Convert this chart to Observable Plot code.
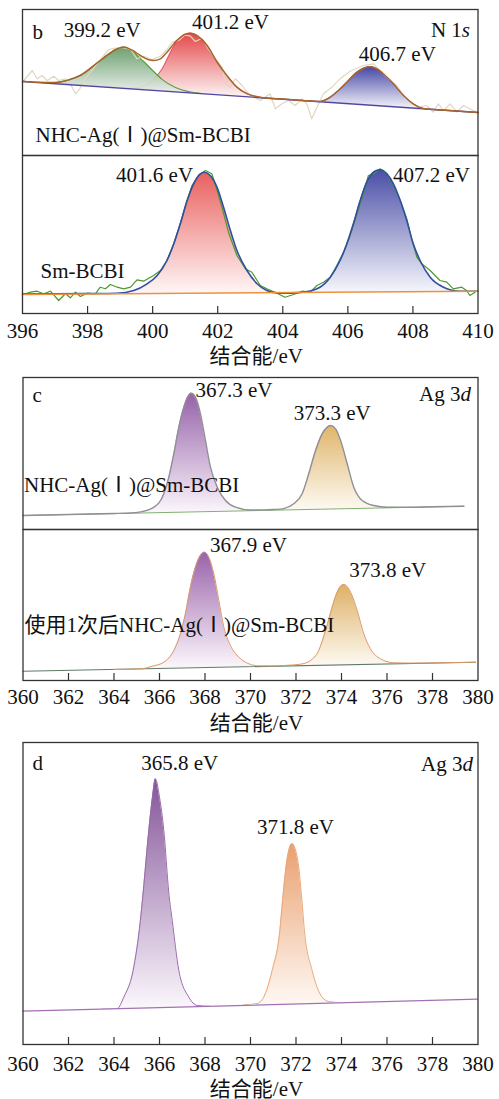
<!DOCTYPE html>
<html><head><meta charset="utf-8">
<script src="https://cdn.jsdelivr.net/npm/d3@7"></script>
<script src="https://cdn.jsdelivr.net/npm/@observablehq/plot@0.6"></script>
<style>
body{margin:0;background:#fff;}
#wrap{position:relative;width:499px;height:1099px;overflow:hidden;background:#fff;}
#wrap svg{position:absolute;left:0;}
</style></head><body><div id="wrap"></div>
<script>
const FONT = "'Liberation Serif','Noto Sans CJK SC',serif";

// ---------- Panel b (N 1s), x = binding energy (eV), y = intensity (a.u.) ----------
const bTicks = [396, 398, 400, 402, 404, 406, 408, 410];
// upper: NHC-Ag(I)@Sm-BCBI
const bTopBaseline = [[396, 74], [410, 43]];
const bTopGreen = [[397.0,72.8],[397.4,75.4],[397.8,80.5],[398.2,90.1],[398.6,100.2],[398.9,106.5],[399.1,108.3],[399.4,103.4],[399.7,94.7],[400.0,85.0],[400.3,75.9],[400.7,68.0],[401.1,63.8],[401.5,61.9]];
const bTopRed = [[399.2,67.0],[399.6,68.6],[399.9,72.5],[400.1,78.8],[400.3,87.0],[400.5,100.0],[400.75,114.5],[401.0,121.0],[401.15,122.3],[401.4,119.0],[401.67,110.0],[401.98,93.3],[402.28,80.0],[402.59,68.3],[402.9,61.7],[403.3,58.3]];
const bTopBlue = [[405.15,53.9],[405.46,58.3],[405.71,65.0],[405.97,73.3],[406.28,83.3],[406.5,87.4],[406.68,88.8],[406.9,86.4],[407.09,81.7],[407.4,71.7],[407.71,60.0],[408.01,51.7],[408.32,46.8]];
const bTopEnvelope = [[396,74.3],[396.5,73.2],[397,72.9],[397.4,75.4],[397.8,80.5],[398.2,90.1],[398.6,100.2],[398.9,106.5],[399.1,108.6],[399.4,104.8],[399.62,100],[399.88,95.7],[400.03,95],[400.24,96.7],[400.44,103.3],[400.75,115.2],[401.0,121.3],[401.16,122.3],[401.4,119.1],[401.67,110.2],[401.98,93.5],[402.28,80.1],[402.59,68.4],[402.9,61.8],[403.3,58.3],[404,56.4],[404.6,55],[405.15,54],[405.46,58.3],[405.71,65],[405.97,73.3],[406.28,83.3],[406.5,87.5],[406.68,88.8],[406.9,86.5],[407.09,81.7],[407.4,71.7],[407.71,60],[408.01,51.7],[408.32,47],[409,45.2],[410,43]];
const bTopRaw = [[396.04,75],[396.30,85],[396.45,76.7],[396.60,80],[396.76,75],[396.96,79.3],[397.11,75],[397.32,76.7],[397.47,71.7],[397.63,61.7],[397.76,66.7],[397.88,75],[398.09,83.3],[398.29,91.7],[398.50,100],[398.65,106],[398.86,107.3],[399.06,108],[399.32,106],[399.52,96.7],[399.72,99.3],[399.98,96],[400.24,99.3],[400.44,106],[400.60,113.3],[400.80,115],[401.00,120.7],[401.16,119.3],[401.31,114],[401.52,117.3],[401.72,106],[401.93,96.7],[402.13,88.3],[402.26,70.7],[402.39,68.3],[402.54,76.7],[402.75,70],[402.95,61.7],[403.31,55],[403.61,61.7],[403.77,46.7],[403.97,51.7],[404.18,55],[404.38,50],[404.59,56.7],[404.74,51.7],[404.89,36.7],[405.05,48.3],[405.25,61.7],[405.51,68.3],[405.76,76.7],[406.07,84.3],[406.48,90],[406.79,91.7],[406.99,85],[407.25,76.7],[407.50,70],[407.76,58.3],[407.96,51.7],[408.17,48.3],[408.42,50],[408.63,43.3],[408.78,51.7],[408.94,45],[409.14,51.7],[409.35,43.3],[409.55,50],[409.75,46.7],[409.96,43.3]];
const bTopLabels = [{x:398.45,y:118.3,t:"399.2 eV"},{x:402.39,y:126.7,t:"401.2 eV"},{x:407.52,y:95,t:"406.7 eV"}];
// lower: Sm-BCBI
const bBotBaseline = [[396, 19], [410, 22.3]];
const bBotRed = [[398.9,19.7],[399.42,23],[399.83,29.7],[400.14,38],[400.44,53],[400.65,69.7],[400.85,89.7],[401.06,113],[401.26,129.7],[401.47,139.7],[401.59,141.3],[401.77,138],[401.98,126.3],[402.18,106.3],[402.39,83],[402.59,63],[402.9,43],[403.21,29.7],[403.51,23],[403.82,20.6],[404.2,20.9]];
const bBotBlue = [[404.5,20.9],[405.05,24.7],[405.46,36.3],[405.76,53],[405.97,69.7],[406.17,89.7],[406.38,113],[406.58,131.3],[406.79,141.3],[406.99,143.7],[407.2,139.7],[407.4,129.7],[407.61,113],[407.81,93],[408.01,69.7],[408.22,53],[408.53,36.3],[408.94,26.3],[409.45,22.3],[409.9,22.2]];
const bBotEnvelope = [[396,19.5],[397,19.7],[398,20],[398.9,20.3],[399.42,23],[399.83,29.7],[400.14,38],[400.44,53],[400.65,69.7],[400.85,89.7],[401.06,113],[401.26,129.7],[401.47,139.7],[401.59,141.3],[401.77,138],[401.98,126.3],[402.18,106.3],[402.39,83],[402.59,63],[402.9,43],[403.21,29.7],[403.51,23],[403.82,20.6],[404.02,20.4],[404.5,20.9],[405.05,24.7],[405.46,36.3],[405.76,53],[405.97,69.7],[406.17,89.7],[406.38,113],[406.58,131.3],[406.79,141.3],[406.99,143.7],[407.2,139.7],[407.4,129.7],[407.61,113],[407.81,93],[408.01,69.7],[408.22,53],[408.53,36.3],[408.94,26.3],[409.45,22.3],[410,22.2]];
const bBotRaw = [[396.0,19],[396.25,21.3],[396.45,22.3],[396.65,19.7],[396.86,22.3],[397.11,13],[397.32,19.7],[397.47,15.7],[397.63,21.3],[397.78,17],[397.99,20.3],[398.24,19.7],[398.39,26.3],[398.55,24.7],[398.70,29],[398.91,26.3],[399.11,24.7],[399.32,26.3],[399.52,33.7],[399.72,32.3],[400.03,38],[400.24,43],[400.44,53],[400.65,69.7],[400.85,89.7],[401.00,106.3],[401.21,128],[401.41,138],[401.62,143],[401.82,139.7],[401.98,123],[402.13,106.3],[402.33,81.3],[402.59,58],[402.85,44.7],[403.05,41.3],[403.31,28],[403.51,24.7],[403.82,20.3],[404.07,16.3],[404.33,19],[404.59,22.3],[404.84,21.3],[405.05,28],[405.25,31.3],[405.46,36.3],[405.66,48],[405.87,61.3],[406.07,78],[406.28,99.7],[406.48,119.7],[406.63,138],[406.79,139.7],[406.99,144.7],[407.20,139.7],[407.40,128],[407.61,113],[407.81,94.7],[407.96,74.7],[408.12,56.3],[408.27,49.7],[408.53,43],[408.83,33],[409.04,31.3],[409.24,24.7],[409.50,26.3],[409.65,23],[409.75,18],[409.91,21.3]];
const bBotLabels = [{x:400.06,y:131.3,t:"401.6 eV"},{x:408.57,y:131.3,t:"407.2 eV"}];

// ---------- Panel c (Ag 3d) ----------
const cdTicks = [360, 362, 364, 366, 368, 370, 372, 374, 376, 378, 380];
const cTopBaseline = [[360, 14], [379.38, 23.3]];
const cTopPurple = [[364.6,16.2],[365.16,17.6],[365.75,22.3],[366.19,35.7],[366.41,52.3],[366.63,75.7],[366.85,102.3],[367.07,122.3],[367.25,133],[367.39,136.3],[367.58,132.3],[367.8,115.7],[368.02,89],[368.24,62.3],[368.54,42.3],[368.9,29],[369.34,22.3],[370.0,19],[370.6,19.1]];
const cTopGold = [[370.8,19.2],[371.46,20.7],[371.9,25.7],[372.27,35.7],[372.56,55.7],[372.86,79],[373.15,95.7],[373.37,102.3],[373.52,104],[373.74,100.7],[373.96,89],[374.25,65.7],[374.54,42.3],[374.91,29],[375.42,24],[376.01,22.3],[376.8,22.1]];
const cTopEnvelope = [[360,14],[362,15],[364,16],[364.6,16.3],[365.16,17.6],[365.75,22.3],[366.19,35.7],[366.41,52.3],[366.63,75.7],[366.85,102.3],[367.07,122.3],[367.25,133],[367.39,136.3],[367.58,132.3],[367.8,115.7],[368.02,89],[368.24,62.3],[368.54,42.3],[368.9,29],[369.34,22.3],[370,19.5],[370.6,19.6],[371.0,20],[371.46,20.9],[371.9,25.7],[372.27,35.7],[372.56,55.7],[372.86,79],[373.15,95.7],[373.37,102.3],[373.52,104],[373.74,100.7],[373.96,89],[374.25,65.7],[374.54,42.3],[374.91,29],[375.42,24],[376.01,22.3],[377,22.3],[378,22.7],[379.38,23.3]];
const cTopLabels = [{x:369.27,y:132.3,t:"367.3 eV"},{x:373.59,y:109.7,t:"373.3 eV"}];
const cBotBaseline = [[360, 9.3], [379.89, 18.3]];
const cBotPurple = [[365.2,11.7],[365.68,14.3],[366.19,18.3],[366.63,30],[366.92,46.7],[367.14,66.7],[367.36,93.3],[367.58,113.3],[367.8,125],[367.98,128.3],[368.17,123.3],[368.39,106.7],[368.61,80],[368.83,53.3],[369.12,35],[369.49,23.3],[369.93,16.7],[370.37,14.3],[371,14.3]];
const cBotGold = [[371.6,14.8],[372.2,16],[372.64,20],[373.0,30],[373.3,50],[373.59,73.3],[373.81,88.3],[374.1,96],[374.4,88.3],[374.69,70],[374.98,46.7],[375.27,31.7],[375.71,21.7],[376.3,17.7],[377,17.2]];
const cBotEnvelope = [[364,11.1],[365.2,11.7],[365.68,14.3],[366.19,18.3],[366.63,30],[366.92,46.7],[367.14,66.7],[367.36,93.3],[367.58,113.3],[367.8,125],[367.98,128.3],[368.17,123.3],[368.39,106.7],[368.61,80],[368.83,53.3],[369.12,35],[369.49,23.3],[369.93,16.7],[370.37,14.6],[371,14.5],[371.6,15.2],[372.2,16.3],[372.64,20],[373.0,30],[373.3,50],[373.59,73.3],[373.81,88.3],[374.1,96],[374.4,88.3],[374.69,70],[374.98,46.7],[375.27,31.7],[375.71,21.7],[376.3,17.7],[377,17.4],[378.5,17.8],[379.89,18.3]];
const cBotLabels = [{x:369.91,y:128.3,t:"367.9 eV"},{x:376.03,y:103.3,t:"373.8 eV"}];

// ---------- Panel d (Ag 3d) ----------
const dBaseline = [[360, 33.3], [379.97, 45.3]];
const dPurple = [[363.5,35.4],[364.14,35.9],[364.43,47.3],[364.84,74],[365.16,124],[365.28,151.5],[365.53,214],[365.69,247.3],[365.82,265.7],[366.0,247.3],[366.19,214],[366.41,151.5],[366.56,124],[366.85,74],[367.29,47.3],[367.66,39],[368.2,38.2]];
const dOrange = [[369.7,39.6],[370.29,41],[370.58,47.3],[370.95,74],[371.29,114],[371.41,144],[371.58,180.7],[371.83,200.7],[372.1,180.7],[372.26,144],[372.37,114],[372.71,74],[373.15,47.3],[373.44,43],[374,41.7]];
const dLabels = [{x:366.89,y:274.7,t:"365.8 eV"},{x:371.98,y:210.7,t:"371.8 eV"}];

const AXIS_TITLE = "结合能/eV";

const X = d => d[0], Y = d => d[1];
const wrap = document.getElementById("wrap");
const NS = "http://www.w3.org/2000/svg";

function panel(o) {
  const H = o.mt + o.frameH + o.mb;
  const marks = [];
  for (const a of o.areas) {
    marks.push(Plot.areaY(a.data, {x: X, y1: o.yDomain[0], y2: Y, fill: `url(#${a.id})`, fillOpacity: a.opacity ?? 1, curve: "monotone-x"}));
    if (a.stroke) marks.push(Plot.line(a.data, {x: X, y: Y, stroke: a.stroke, strokeWidth: a.sw ?? 1, curve: "monotone-x"}));
  }
  marks.push(Plot.areaY(o.baseline, {x: X, y1: o.yDomain[0], y2: Y, fill: "white"}));
  for (const l of o.lines) marks.push(Plot.line(l.data, {x: X, y: Y, stroke: l.stroke, strokeWidth: l.sw ?? 1, strokeOpacity: l.op ?? 1, curve: l.curve ?? "monotone-x"}));
  if (o.ticks) {
    marks.push(Plot.tickX(o.ticks.filter(t => t > o.xDomain[0] && t < o.xDomain[1]), {x: d => d, insetTop: o.frameH - 7, stroke: "#333", strokeWidth: 1.2}));
    marks.push(Plot.text(o.ticks, {x: d => d, text: d => String(d), frameAnchor: "bottom", lineAnchor: "bottom", dy: o.tickDy, fontSize: 21, fill: "#111"}));
    marks.push(Plot.text([AXIS_TITLE], {text: d => d, frameAnchor: "bottom", lineAnchor: "bottom", dy: o.titleDy, dx: 6, fontSize: 21, fill: "#111"}));
  }
  marks.push(Plot.frame({stroke: "#333", strokeWidth: 1.3}));
  for (const t of o.frameTexts) marks.push(Plot.text([t.t], {text: d => d, frameAnchor: t.a, lineAnchor: "bottom", textAnchor: t.a.endsWith("right") ? "end" : "start", dx: t.dx, dy: t.dy, fontSize: 21, fill: "#111"}));
  marks.push(Plot.text(o.labels, {x: "x", y: "y", text: "t", lineAnchor: "bottom", fontSize: 21, fill: "#111"}));

  const svg = Plot.plot({
    width: 499, height: H,
    marginTop: o.mt, marginBottom: o.mb, marginLeft: o.ml, marginRight: o.mr,
    x: {domain: o.xDomain, axis: null},
    y: {domain: o.yDomain, axis: null},
    style: {fontFamily: FONT, fontSize: "21px", background: "transparent", overflow: "visible", color: "#111"},
    marks
  });
  svg.style.top = o.top + "px";
  // gradients derived from the y scale
  const ys = svg.scale("y");
  const yS = d3.scaleLinear(ys.domain, ys.range);
  const defs = document.createElementNS(NS, "defs");
  for (const a of o.areas) {
    const vals = a.data.map(Y);
    const lg = document.createElementNS(NS, "linearGradient");
    lg.setAttribute("id", a.id);
    lg.setAttribute("gradientUnits", "userSpaceOnUse");
    lg.setAttribute("x1", 0); lg.setAttribute("x2", 0);
    lg.setAttribute("y1", yS(d3.max(vals)));
    lg.setAttribute("y2", yS(d3.min(vals)));
    for (const [off, c] of [[0, a.c0], [1, a.c1]]) {
      const s = document.createElementNS(NS, "stop");
      s.setAttribute("offset", off); s.setAttribute("stop-color", c);
      lg.appendChild(s);
    }
    defs.appendChild(lg);
  }
  svg.insertBefore(defs, svg.firstChild);
  // italic subshell letter
  svg.querySelectorAll("text").forEach(t => {
    const m = t.textContent.match(/^(N 1|Ag 3)([sd])$/);
    if (m && t.children.length === 0) {
      t.textContent = m[1];
      const ts = document.createElementNS(NS, "tspan");
      ts.setAttribute("font-style", "italic");
      ts.textContent = m[2];
      t.appendChild(ts);
    }
  });
  wrap.appendChild(svg);
}

// b upper
panel({
  top: 8, mt: 1, frameH: 146, mb: 1, ml: 22, mr: 21.5,
  xDomain: [396, 410], yDomain: [0, 146],
  areas: [
    {id: "bt-red", data: bTopRed, c0: "#e4484a", c1: "#fdf3f3", stroke: "#e8506a", sw: 1},
    {id: "bt-green", data: bTopGreen, c0: "#5e9961", c1: "#eceeec", stroke: "#5aa03a", sw: 1.2, opacity: 0.92},
    {id: "bt-blue", data: bTopBlue, c0: "#4545a5", c1: "#f4f4fb", stroke: "#3c3c9c", sw: 1}
  ],
  baseline: bTopBaseline,
  lines: [
    {data: bTopRaw, stroke: "#e2d6bf", sw: 1.2, curve: "linear"},
    {data: bTopBaseline, stroke: "#5146a3", sw: 1.3, curve: "linear"},
    {data: bTopEnvelope, stroke: "#a8632a", sw: 1.5}
  ],
  frameTexts: [
    {t: "b", a: "top-left", dx: 10, dy: 29.3},
    {t: "N 1s", a: "top-right", dx: -8, dy: 27.7},
    {t: "NHC-Ag(Ⅰ)@Sm-BCBI", a: "bottom-left", dx: 13, dy: -13.3}
  ],
  labels: bTopLabels
});

// b lower
panel({
  top: 154, mt: 1, frameH: 158, mb: 56, ml: 22, mr: 21.5,
  xDomain: [396, 410], yDomain: [0, 158],
  areas: [
    {id: "bb-red", data: bBotRed, c0: "#e8605e", c1: "#fff6f6"},
    {id: "bb-blue", data: bBotBlue, c0: "#4a4ea6", c1: "#f6f6fc"}
  ],
  baseline: bBotBaseline,
  lines: [
    {data: bBotRaw, stroke: "#4b9a2c", sw: 1.2, curve: "linear"},
    {data: bBotEnvelope, stroke: "#2f4fa0", sw: 1.6},
    {data: bBotBaseline, stroke: "#f0903a", sw: 1.4, curve: "linear"}
  ],
  ticks: bTicks, tickDy: 24.5, titleDy: 49,
  frameTexts: [
    {t: "Sm-BCBI", a: "bottom-left", dx: 18, dy: -35.7}
  ],
  labels: bBotLabels
});

// c upper
panel({
  top: 376, mt: 1, frameH: 152, mb: 1, ml: 22.5, mr: 21.5,
  xDomain: [360, 380], yDomain: [0, 152],
  areas: [
    {id: "ct-purple", data: cTopPurple, c0: "#9561a9", c1: "#fbf6fc"},
    {id: "ct-gold", data: cTopGold, c0: "#dfb56a", c1: "#fdfaf3"}
  ],
  baseline: cTopBaseline,
  lines: [
    {data: cTopBaseline, stroke: "#7fb070", sw: 1, curve: "linear"},
    {data: cTopEnvelope, stroke: "#8f8f96", sw: 1.4}
  ],
  frameTexts: [
    {t: "c", a: "top-left", dx: 9.5, dy: 24.7},
    {t: "Ag 3d", a: "top-right", dx: -7, dy: 23},
    {t: "NHC-Ag(Ⅰ)@Sm-BCBI", a: "bottom-left", dx: 1, dy: -37.3}
  ],
  labels: cTopLabels
});

// c lower
panel({
  top: 528, mt: 1, frameH: 151, mb: 58, ml: 22.5, mr: 21.5,
  xDomain: [360, 380], yDomain: [0, 151],
  areas: [
    {id: "cb-purple", data: cBotPurple, c0: "#9a62aa", c1: "#fcf7fc"},
    {id: "cb-gold", data: cBotGold, c0: "#deb066", c1: "#fdfaf2"}
  ],
  baseline: cBotBaseline,
  lines: [
    {data: cBotBaseline, stroke: "#607a68", sw: 1.1, curve: "linear"},
    {data: cBotEnvelope, stroke: "#d99a6a", sw: 1}
  ],
  ticks: cdTicks, tickDy: 23.3, titleDy: 49,
  frameTexts: [
    {t: "使用1次后NHC-Ag(Ⅰ)@Sm-BCBI", a: "bottom-left", dx: 1.5, dy: -48.3}
  ],
  labels: cBotLabels
});

// d
panel({
  top: 741, mt: 1, frameH: 302, mb: 56, ml: 22.5, mr: 21.5,
  xDomain: [360, 380], yDomain: [0, 302],
  areas: [
    {id: "d-purple", data: dPurple, c0: "#84559a", c1: "#fbf7fc", stroke: "#9a6aaa", sw: 1},
    {id: "d-orange", data: dOrange, c0: "#e9a070", c1: "#fff8f3", stroke: "#eaa878", sw: 1}
  ],
  baseline: dBaseline,
  lines: [
    {data: dBaseline, stroke: "#a270b2", sw: 1.2, curve: "linear"}
  ],
  ticks: cdTicks, tickDy: 26, titleDy: 51,
  frameTexts: [
    {t: "d", a: "top-left", dx: 9.5, dy: 27.3},
    {t: "Ag 3d", a: "top-right", dx: -5, dy: 28}
  ],
  labels: dLabels
});
</script></body></html>
